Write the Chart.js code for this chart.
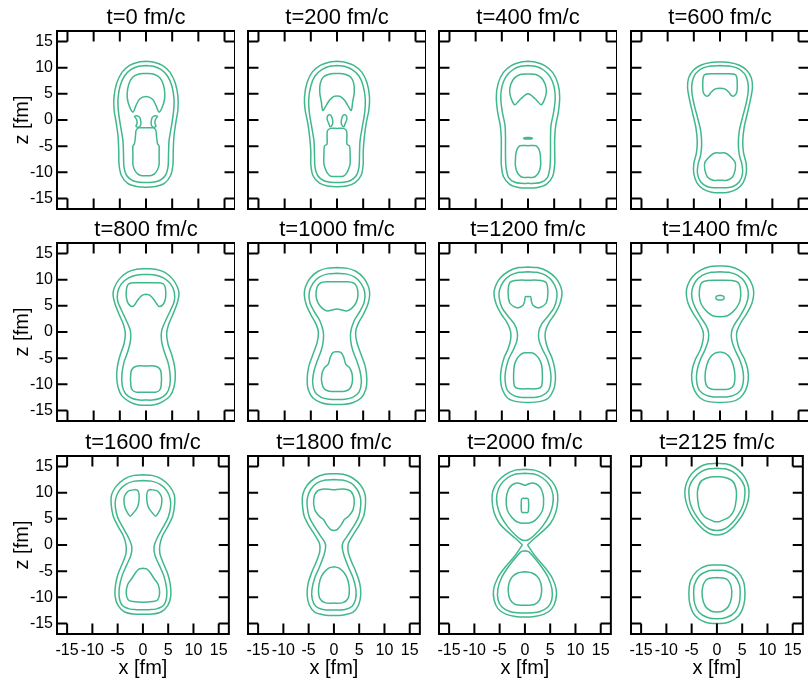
<!DOCTYPE html>
<html>
<head>
<meta charset="utf-8">
<script src="https://cdn.jsdelivr.net/npm/chart.js@4.4.1/dist/chart.umd.min.js"></script>
<style>
  html, body { margin: 0; padding: 0; background: #fff; overflow: hidden; }
  #wrap { position: relative; width: 808px; height: 683px; }
  #wrap canvas { position: absolute; }
</style>
</head>
<body>
<div id="wrap"></div>
<script>
// ===============================
// DATA (x, z in fm)
// ===============================
const times = [0, 200, 400, 600, 800, 1000, 1200, 1400, 1600, 1800, 2000, 2125];
const tickVals = [-15, -10, -5, 0, 5, 10, 15];
const axisRange = [-17, 17];

// right halves of x-symmetric contours, from one x=0 point to another
const outer0 = [[0,11.2],[1.5,11.05],[3.2,10.4],[4.6,9.1],[5.6,7],[6.1,4.5],[6.1,2],[5.7,-0.5],[5.35,-3],[5.2,-6],[5.15,-8.5],[4.7,-10.6],[3.5,-12.1],[1.8,-12.7],[0,-12.85]];
const mid0 = [[0,10.4],[1.4,10.25],[2.9,9.6],[4.1,8.4],[4.95,6.5],[5.35,4],[5.25,1.5],[4.8,-1.5],[4.4,-4],[4.3,-6.5],[4.2,-9],[3.7,-10.6],[2.5,-11.6],[1.2,-11.9],[0,-11.95]];
const crescent0 = [[0,8.9],[1.5,8.75],[2.6,8.1],[3.3,6.8],[3.6,5],[3.4,3.3],[2.5,1.5],[1.9,2.8],[1.2,4.0],[0,4.5]];
const blob0 = [[1.0,-0.2],[1.2,0.5],[1.8,0.8],[2.2,0.7],[1.8,0.1],[1.7,-0.6],[1.9,-1.2],[1.4,-1.4],[1.0,-0.9],[1.0,-0.2]];
const lower0 = [[0,-1.5],[1.4,-1.5],[1.9,-2.0],[2.0,-3.0],[2.2,-4.5],[2.5,-5.0],[2.5,-7],[2.5,-8.5],[2.2,-9.5],[1.6,-10.3],[1.0,-10.6],[0,-10.65]];

const outer200 = [[0,11.2],[1.5,11.05],[3.2,10.45],[4.7,9.2],[5.7,7.2],[6.2,4.5],[6.1,2],[5.6,-0.5],[5.25,-3],[5.0,-6],[5.0,-8.5],[4.6,-10.6],[3.4,-12.0],[1.8,-12.6],[0,-12.75]];
const mid200 = [[0,10.4],[1.4,10.25],[2.9,9.6],[4.2,8.4],[5.0,6.5],[5.4,4],[5.3,1.5],[4.8,-1.5],[4.4,-4],[4.3,-6.5],[4.2,-9],[3.7,-10.6],[2.5,-11.6],[1.2,-11.9],[0,-11.95]];
const crescent200 = [[0,8.9],[1.5,8.75],[2.6,8.2],[3.2,7.0],[3.3,5.3],[3.0,3.5],[2.7,1.8],[2.0,2.9],[1.4,3.8],[0.6,4.5],[0,4.6]];
const blob200 = [[0.9,0.3],[1.2,0.95],[1.7,0.9],[1.9,0.2],[1.6,-0.6],[1.3,-1.3],[0.9,-0.9],[0.8,-0.3],[0.9,0.3]];
const lower200 = [[0,-1.6],[1.2,-1.6],[1.8,-2.0],[1.9,-3.0],[1.9,-4.6],[2.4,-5.0],[2.5,-6.5],[2.5,-8.4],[2.2,-9.4],[1.8,-10.2],[1.2,-10.75],[0,-10.8]];

const outer400 = [[0,11.2],[1.5,11.05],[3.2,10.4],[4.7,9.1],[5.7,7.0],[6.05,4.5],[5.8,1.5],[5.3,-1],[5.1,-3.5],[5.1,-6],[5.1,-8.5],[4.7,-10.8],[3.5,-12.3],[1.8,-12.9],[0,-13.0]];
const mid400 = [[0,10.4],[1.4,10.25],[2.9,9.6],[4.2,8.3],[5.0,6.3],[5.2,4],[4.9,1.5],[4.4,-1],[4.3,-3.5],[4.3,-6.5],[4.2,-9],[3.7,-11],[2.5,-11.9],[1.2,-12.1],[0,-12.1]];
const crescent400 = [[0,8.8],[1.5,8.7],[2.6,8.0],[3.3,6.8],[3.5,5.3],[3.1,3.8],[2.5,2.9],[1.9,3.5],[1.3,4.1],[0.5,4.8],[0,5.0]];
const dot400 = [[0,-3.35],[0.6,-3.38],[0.85,-3.5],[0.6,-3.62],[0,-3.65]];
const lower400 = [[0,-4.9],[1.5,-4.9],[2.0,-5.4],[2.3,-6.3],[2.4,-7.5],[2.4,-8.8],[2.1,-9.9],[1.6,-10.6],[1.1,-10.95],[0,-10.95]];

const outer600 = [[0,11.1],[1.8,11.0],[3.6,10.5],[5.1,9.5],[6.0,8],[6.2,6.2],[5.8,3.8],[5.2,1.2],[4.6,-1.5],[4.35,-4],[4.5,-6.3],[5.0,-8.3],[5.0,-10.3],[4.4,-12],[3.2,-13.2],[1.6,-13.8],[0,-13.9]];
const mid600 = [[0,10.4],[1.8,10.3],[3.5,9.8],[4.7,8.8],[5.3,7.3],[5.4,5.6],[5.0,3.2],[4.3,0.5],[3.7,-2],[3.5,-4.5],[3.7,-6.7],[4.2,-8.5],[4.3,-10.3],[3.7,-11.8],[2.5,-12.7],[1.2,-12.95],[0,-12.95]];
const upper600 = [[0,8.85],[1.5,8.85],[2.8,8.75],[3.2,8.2],[3.3,6.5],[3.2,5.3],[2.7,4.6],[2.2,4.65],[1.7,5.3],[1.0,5.9],[0,6.05]];
const lower600 = [[0,-6.3],[1.0,-6.3],[2.0,-7.0],[2.9,-8.1],[2.9,-9.5],[2.4,-10.9],[1.3,-11.5],[0,-11.5]];

const outer800 = [[0,12.1],[1.8,12.0],[3.6,11.4],[5.1,10.1],[6.0,8.6],[6.3,7.2],[5.9,5.3],[5.1,3.3],[4.3,1.4],[3.95,-0.3],[4.2,-2.3],[4.9,-4.3],[5.45,-6.5],[5.6,-8.5],[5.35,-10.5],[4.6,-12.2],[3.2,-13.3],[1.6,-13.9],[0,-14.0]];
const mid800 = [[0,11.0],[1.7,10.9],[3.4,10.3],[4.7,9.2],[5.4,7.6],[5.4,5.9],[4.7,4.2],[3.8,2.3],[3.0,0.3],[2.95,-1.5],[3.4,-3.5],[4.2,-5.8],[4.6,-8],[4.55,-10.2],[3.9,-11.8],[2.6,-12.7],[1.2,-13.0],[0,-13.0]];
const upper800 = [[0,7.2],[0.75,7.0],[1.5,6.2],[2.1,5.3],[2.5,4.85],[3.3,5.3],[3.75,6.6],[3.7,8.4],[3.3,9.2],[1.8,9.4],[0,9.4]];
const lower800 = [[0,-6.5],[1.6,-6.5],[2.5,-6.9],[2.9,-7.8],[2.9,-10.2],[2.6,-11.1],[1.8,-11.5],[0,-11.5]];

const outer1000 = [[0,12.3],[1.8,12.2],[3.6,11.6],[5.1,10.3],[6.0,8.7],[6.25,7.2],[5.9,5.3],[5.0,3.3],[4.0,1.5],[3.55,-0.1],[3.8,-2],[4.6,-4.3],[5.4,-6.6],[5.7,-9],[5.5,-11],[4.6,-12.6],[3.0,-13.5],[1.5,-13.8],[0,-13.85]];
const mid1000 = [[0,11.2],[1.7,11.1],[3.4,10.5],[4.6,9.3],[5.3,7.6],[5.2,5.7],[4.4,4.0],[3.3,2.2],[2.65,0.2],[2.6,-1.5],[3.0,-3.5],[3.8,-5.6],[4.4,-7.5],[4.65,-9.7],[4.2,-11.5],[3.0,-12.5],[1.5,-12.85],[0,-12.9]];
const upper1000 = [[0,9.6],[1.8,9.6],[3.1,9.4],[3.8,8.6],[4.0,6.9],[3.6,5.5],[2.8,4.5],[1.8,4.0],[0.8,4.25],[0,4.4]];
const lower1000 = [[0,-3.75],[0.8,-3.95],[1.3,-4.9],[1.7,-6.2],[2.4,-6.8],[2.9,-8.1],[2.9,-9.7],[2.4,-10.9],[1.5,-11.3],[0,-11.35]];

const outer1200 = [[0,12.4],[1.8,12.3],[3.7,11.6],[5.3,10.3],[6.2,8.8],[6.5,7.3],[6.1,5.4],[5.1,3.4],[4.0,1.8],[3.35,0.2],[3.3,-1.3],[3.8,-3.2],[4.6,-5],[5.1,-7],[5.25,-9],[4.9,-11],[3.9,-12.6],[2.2,-13.3],[0,-13.45]];
const mid1200 = [[0,11.5],[1.7,11.4],[3.4,10.8],[4.7,9.6],[5.45,8.0],[5.5,6.5],[5.0,4.7],[3.8,3.0],[2.6,1.5],[2.05,0],[2.1,-1.6],[2.8,-3.4],[3.7,-5.2],[4.3,-7.5],[4.35,-9.5],[3.9,-11.2],[2.6,-12.2],[1.2,-12.5],[0,-12.5]];
const upper1200 = [[0,6.75],[0.5,6.75],[0.65,5.9],[0.95,5.1],[1.8,4.65],[2.6,4.8],[3.5,5.6],[3.8,7.5],[3.5,9.4],[2.5,9.85],[0,9.9]];
const lower1200 = [[0,-3.95],[0.9,-4.0],[1.5,-4.4],[2.1,-5.1],[2.6,-6.3],[2.75,-8.4],[2.6,-10.3],[1.9,-10.8],[0,-10.85]];

const outer1400 = [[0,12.6],[1.8,12.5],[3.7,11.8],[5.3,10.5],[6.2,8.9],[6.45,7.4],[6.1,5.5],[5.1,3.5],[4.0,1.8],[3.2,0],[3.25,-1.6],[3.8,-3.5],[4.7,-5.2],[5.3,-7.2],[5.4,-9.2],[4.9,-11.1],[3.8,-12.6],[2.2,-13.3],[0,-13.45]];
const mid1400 = [[0,11.5],[1.7,11.4],[3.4,10.8],[4.7,9.6],[5.35,8.0],[5.35,6.4],[4.8,4.8],[3.8,3.0],[2.7,1.3],[2.2,0],[2.25,-1.6],[2.9,-3.5],[3.8,-5.4],[4.4,-7.5],[4.45,-9.5],[3.9,-11.2],[2.6,-12.1],[1.2,-12.4],[0,-12.4]];
const upper1400 = [[0,9.9],[2.3,9.85],[3.5,9.4],[3.95,7.8],[3.8,5.9],[3.2,4.7],[2.4,3.8],[1.4,3.1],[0,2.9]];
const dot1400 = [[0,7.0],[0.55,6.9],[0.8,6.55],[0.55,6.2],[0,6.1]];
const lower1400 = [[0,-3.8],[0.95,-4.05],[1.9,-4.9],[2.55,-6.4],[2.85,-8.4],[2.6,-10.2],[1.7,-10.9],[0,-11.0]];

const outer1600 = [[0,13.4],[1.8,13.3],[3.7,12.6],[5.3,11.2],[6.2,9.6],[6.3,8.0],[5.9,5.6],[5.0,3.7],[3.9,1.8],[3.35,0],[3.35,-1.6],[4.0,-3.4],[4.9,-5.5],[5.4,-7.5],[5.5,-9.8],[4.9,-11.6],[3.6,-12.8],[1.8,-13.2],[0,-13.25]];
const mid1600 = [[0,12.3],[1.7,12.2],[3.4,11.6],[4.7,10.4],[5.4,8.8],[5.45,7.2],[5.0,5.3],[4.0,3.4],[2.9,1.5],[2.2,-0.3],[2.4,-2],[3.2,-3.8],[4.1,-5.8],[4.65,-8],[4.7,-9.9],[4.1,-11.5],[2.7,-12.2],[1.3,-12.35],[0,-12.35]];
const blob1600 = [[1.5,10.6],[2.9,10.3],[3.6,9.4],[3.75,8.4],[3.5,7.0],[2.9,5.9],[2.5,5.5],[1.9,6.1],[1.2,7.0],[0.85,8.0],[0.75,9.5],[1.0,10.4],[1.5,10.6]];
const lower1600 = [[0,-4.45],[0.8,-4.6],[1.4,-5.2],[2.2,-6.4],[3.0,-7.5],[3.3,-9.2],[2.9,-10.5],[1.9,-10.8],[0,-10.95]];

const outer1800 = [[0,13.6],[1.8,13.5],[3.7,12.8],[5.3,11.4],[6.15,9.7],[6.25,8.0],[5.9,5.6],[4.9,3.6],[3.7,1.8],[2.85,0.3],[2.8,-1.2],[3.4,-3.0],[4.3,-5],[5.1,-7.3],[5.3,-9.5],[4.9,-11.4],[3.8,-12.8],[1.9,-13.35],[0,-13.45]];
const mid1800 = [[0,12.5],[1.7,12.4],[3.4,11.8],[4.6,10.6],[5.25,9.0],[5.3,7.5],[4.9,5.4],[3.9,3.6],[2.7,1.8],[1.8,0.5],[1.65,-0.5],[2.0,-2.0],[2.9,-4.3],[3.8,-6.3],[4.35,-8.5],[4.3,-10.3],[3.6,-11.7],[2.2,-12.3],[0,-12.4]];
const upper1800 = [[0,10.55],[1.8,10.7],[3.3,10.3],[4.0,8.8],[3.8,6.8],[2.9,5.5],[2.1,4.9],[1.4,3.8],[0.7,3.0],[0,2.75]];
const lower1800 = [[0,-4.15],[1.1,-4.45],[2.1,-5.4],[2.75,-6.7],[3.05,-8.6],[2.8,-10.2],[1.8,-11.0],[0,-11.1]];

const outer2000 = [[0,14.45],[1.9,14.3],[3.8,13.5],[5.4,12.1],[6.35,10.3],[6.5,8.5],[6.1,6.2],[5.1,4.2],[3.5,2.6],[1.9,1.3],[0.8,0.3],[0.55,0],[0.8,-0.4],[2.1,-2.2],[3.8,-4.1],[5.4,-6.3],[6.2,-8.5],[6.1,-10.5],[5.3,-12.2],[3.8,-13.2],[1.9,-13.65],[0,-13.75]];
const midTop2000 = [[0,13.7],[1.8,13.55],[3.5,12.8],[4.9,11.4],[5.55,9.6],[5.5,7.7],[4.8,5.6],[3.5,3.6],[2.0,2.0],[0.8,1.05],[0,0.85]];
const midBot2000 = [[0,-1.1],[0.8,-1.3],[1.9,-2.5],[3.3,-4.2],[4.6,-6.2],[5.35,-8.4],[5.3,-10.5],[4.5,-11.9],[3.0,-12.7],[1.5,-12.95],[0,-13.0]];
const upper2000 = [[0,11.35],[0.8,11.7],[1.6,11.85],[2.6,11.45],[3.3,10.5],[3.7,8.9],[3.5,6.7],[2.7,5.4],[1.6,4.45],[0,4.15]];
const rect2000 = [[0,8.9],[0.5,8.9],[0.7,8.6],[0.7,6.5],[0.5,6.2],[0,6.2]];
const lower2000 = [[0,-5.1],[1.3,-5.3],[2.5,-6.05],[3.15,-7.3],[3.3,-8.9],[2.9,-10.5],[1.9,-11.35],[0,-11.5]];

const outerTop2125 = [[0,15.6],[1.7,15.5],[3.4,14.9],[5.0,13.6],[6.0,11.9],[6.35,10.2],[6.1,8.2],[5.2,6.0],[4.0,4.3],[2.6,2.9],[1.2,2.1],[0,1.9]];
const midTop2125 = [[0,14.65],[1.6,14.55],[3.1,14.0],[4.5,12.8],[5.4,11.3],[5.55,9.8],[5.2,7.7],[4.3,5.9],[3.0,4.2],[1.6,3.1],[0,2.75]];
const innerTop2125 = [[0,13.05],[1.6,12.9],[3.1,12.2],[3.8,10.6],[3.8,8.6],[3.4,6.7],[2.5,5.4],[1.3,4.8],[0.6,4.5],[0,4.45]];
const outerBot2125 = [[0,-3.8],[2.2,-4.0],[4.0,-5.0],[5.2,-6.8],[5.55,-9.2],[5.3,-11.5],[4.3,-13.5],[2.4,-14.7],[0,-15.0]];
const midBot2125 = [[0,-4.8],[1.9,-5.0],[3.5,-5.9],[4.45,-7.6],[4.6,-9.3],[4.4,-11.2],[3.6,-12.8],[2.0,-13.8],[0,-14.1]];
const innerBot2125 = [[0,-6.2],[1.9,-6.5],[2.8,-7.9],[2.9,-9.9],[2.3,-11.7],[1.2,-12.6],[0,-12.8]];

// close a right half by mirroring it onto the left side
const sym = half => half.concat(half.slice(0, -1).reverse().map(([x, z]) => [-x, z]));
const flip = loop => loop.map(([x, z]) => [-x, z]);

const panelContours = [
  [sym(outer0), sym(mid0), sym(crescent0), blob0, flip(blob0), sym(lower0)],
  [sym(outer200), sym(mid200), sym(crescent200), blob200, flip(blob200), sym(lower200)],
  [sym(outer400), sym(mid400), sym(crescent400), sym(dot400), sym(lower400)],
  [sym(outer600), sym(mid600), sym(upper600), sym(lower600)],
  [sym(outer800), sym(mid800), sym(upper800), sym(lower800)],
  [sym(outer1000), sym(mid1000), sym(upper1000), sym(lower1000)],
  [sym(outer1200), sym(mid1200), sym(upper1200), sym(lower1200)],
  [sym(outer1400), sym(mid1400), sym(upper1400), sym(dot1400), sym(lower1400)],
  [sym(outer1600), sym(mid1600), blob1600, flip(blob1600), sym(lower1600)],
  [sym(outer1800), sym(mid1800), sym(upper1800), sym(lower1800)],
  [sym(outer2000), sym(midTop2000), sym(midBot2000), sym(upper2000), sym(rect2000), sym(lower2000)],
  [sym(outerTop2125), sym(midTop2125), sym(innerTop2125), sym(outerBot2125), sym(midBot2125), sym(innerBot2125)]
];

// ===============================
// LAYOUT / STYLE
// ===============================
const GREEN = "#40b88b";
const FONT = "'Liberation Sans', Arial, Helvetica, sans-serif";
const colLeft = [0, 191, 382, 574];
const rowTop = [0, 212, 425];
const AXIS_W = 57, TITLE_H = 31, PLOT = 178, XAXIS_H = 48;
const TICK_FM = 2; // inner tick length in data units (makes the corner squares)

Chart.defaults.font.family = FONT;
Chart.defaults.color = "#000";

// frame box + inward ticks on all four sides
const frameTicks = {
  id: "frameTicks",
  afterDatasetsDraw(chart) {
    const { ctx, chartArea: a, scales: { x, y } } = chart;
    const lx = Math.abs(x.getPixelForValue(TICK_FM) - x.getPixelForValue(0));
    const ly = Math.abs(y.getPixelForValue(TICK_FM) - y.getPixelForValue(0));
    ctx.save();
    ctx.strokeStyle = "#000";
    ctx.lineWidth = 2;
    ctx.beginPath();
    tickVals.forEach(v => {
      const px = x.getPixelForValue(v);
      ctx.moveTo(px, a.bottom); ctx.lineTo(px, a.bottom - ly);
      ctx.moveTo(px, a.top); ctx.lineTo(px, a.top + ly);
      const py = y.getPixelForValue(v);
      ctx.moveTo(a.left, py); ctx.lineTo(a.left + lx, py);
      ctx.moveTo(a.right, py); ctx.lineTo(a.right - lx, py);
    });
    ctx.stroke();
    ctx.strokeRect(a.left, a.top, a.right - a.left, a.bottom - a.top);
    ctx.restore();
  }
};

const wrap = document.getElementById("wrap");

times.forEach((t, i) => {
  const row = Math.floor(i / 4), col = i % 4;
  const leftCol = col === 0, bottomRow = row === 2;

  const canvas = document.createElement("canvas");
  canvas.width = AXIS_W + PLOT;
  canvas.height = TITLE_H + PLOT + XAXIS_H;
  canvas.style.left = colLeft[col] + "px";
  canvas.style.top = rowTop[row] + "px";
  wrap.appendChild(canvas);

  new Chart(canvas, {
    type: "scatter",
    data: {
      datasets: panelContours[i].map(loop => ({
        data: loop.map(([x, z]) => ({ x: x, y: z })),
        showLine: true,
        borderColor: GREEN,
        borderWidth: 1.5,
        pointRadius: 0,
        tension: 0.3,
        fill: false
      }))
    },
    options: {
      responsive: false,
      animation: false,
      devicePixelRatio: 1,
      layout: { padding: 0 },
      events: [],
      plugins: {
        legend: { display: false },
        tooltip: { enabled: false },
        title: {
          display: true,
          fullSize: false,
          text: `t=${t} fm/c`,
          color: "#000",
          font: { size: 22, weight: "normal", lineHeight: 1 },
          padding: { top: 7, bottom: 2 }
        }
      },
      scales: {
        x: {
          type: "linear",
          min: axisRange[0], max: axisRange[1],
          grid: { display: false, drawTicks: false },
          border: { display: false },
          afterBuildTicks: s => { s.ticks = tickVals.map(v => ({ value: v })); },
          afterFit: s => { s.height = XAXIS_H; },
          ticks: { display: bottomRow, font: { size: 16 }, padding: 7, maxRotation: 0, autoSkip: false },
          title: { display: bottomRow, text: "x [fm]", font: { size: 20 }, padding: { top: 0, bottom: 2 } }
        },
        y: {
          type: "linear",
          min: axisRange[0], max: axisRange[1],
          grid: { display: false, drawTicks: false },
          border: { display: false },
          afterBuildTicks: s => { s.ticks = tickVals.map(v => ({ value: v })); },
          afterFit: s => { s.width = AXIS_W; },
          ticks: { display: leftCol, font: { size: 16 }, padding: 4, autoSkip: false },
          title: { display: leftCol, text: "z [fm]", font: { size: 20 }, padding: { top: 10, bottom: 0 } }
        }
      }
    },
    plugins: [frameTicks]
  });
});
</script>
</body>
</html>
